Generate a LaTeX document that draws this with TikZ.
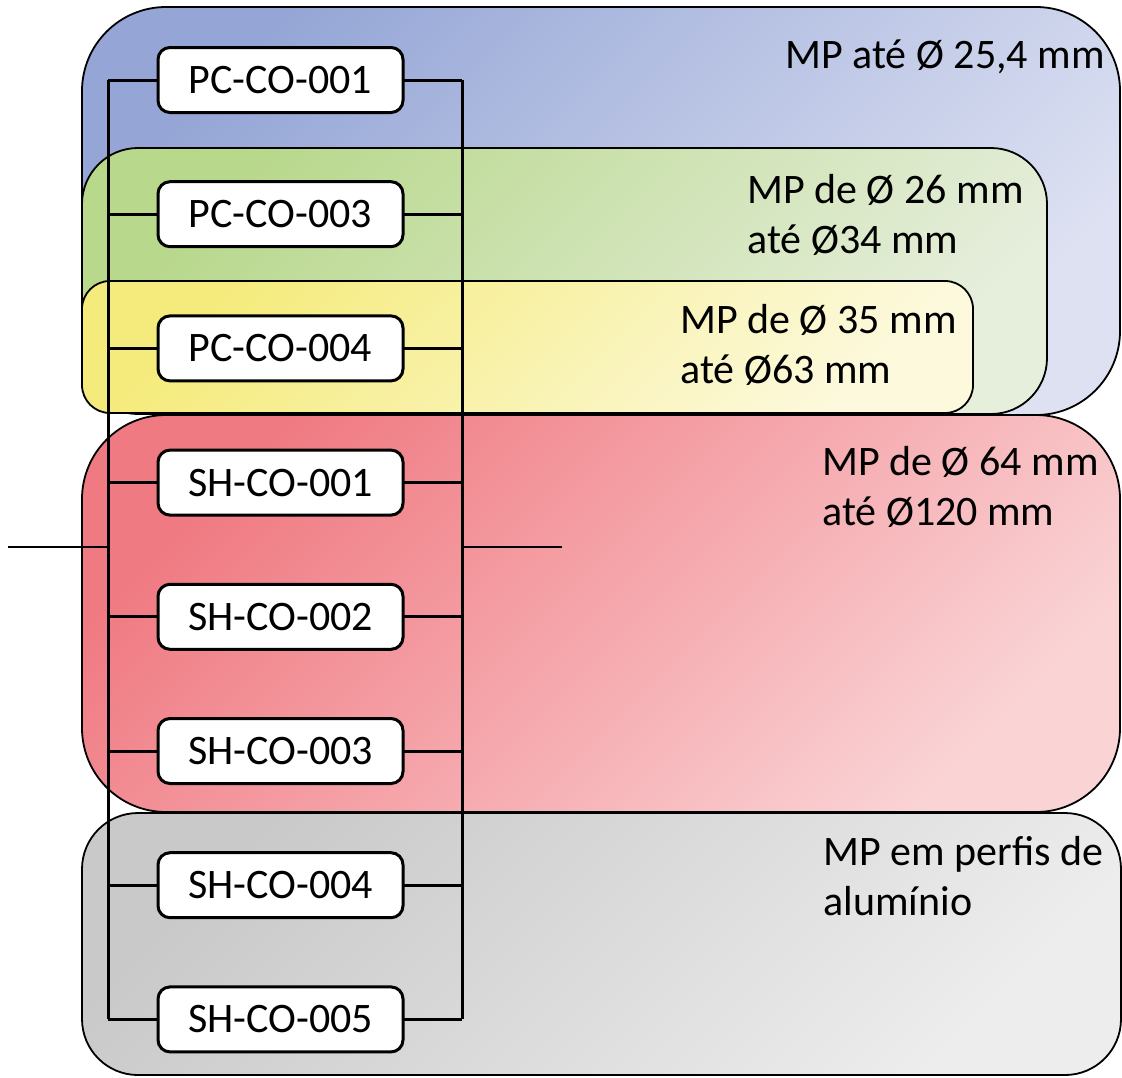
\documentclass[tikz,border=0pt]{standalone}
\usepackage{fontspec}
\setmainfont{Carlito}
\usepackage{tikz}
\usetikzlibrary{positioning, calc}
\definecolor{cBlueA}  {HTML}{95A6D6}
\definecolor{cBlueB}  {HTML}{DDE1F2}
\definecolor{cGreenA} {HTML}{B8D88C}
\definecolor{cGreenB} {HTML}{E6EEDC}
\definecolor{cYellowA}{HTML}{F5EB7C}
\definecolor{cYellowB}{HTML}{FCF9DC}
\definecolor{cRedA}   {HTML}{F07A82}
\definecolor{cRedB}   {HTML}{FAD3D5}
\definecolor{cGrayA}  {HTML}{C9C9C9}
\definecolor{cGrayB}  {HTML}{EEEDED}

\begin{document}
\begin{tikzpicture}[x=0.5pt, y=-0.5pt,
    zone/.style={draw=black, line width=0.9pt},
    ref/.style={draw=black, line width=1.5pt, fill=white, rounded corners=6pt,
      minimum width=122.5pt, minimum height=32.5pt, inner sep=0pt,
      font=\fontsize{21}{25}\selectfont},
    bus/.style={line width=1.5pt},
    lbl/.style={font=\fontsize{21}{25}\selectfont, align=left, inner sep=0pt},
  ]
  \useasboundingbox (0,0) rectangle (1122,1077);

  % faixas de diametro
  \path[zone, rounded corners=42pt, top color=cBlueA, bottom color=cBlueB, shading angle=45]
        (82,7) rectangle (1120,415);
  \path[zone, rounded corners=28pt, top color=cGreenA, bottom color=cGreenB, shading angle=45]
        (82,148) rectangle (1047,414);
  \path[zone, rounded corners=14pt, top color=cYellowA, bottom color=cYellowB, shading angle=45]
        (82,281) rectangle (973,413);
  \path[zone, rounded corners=42pt, top color=cRedA, bottom color=cRedB, shading angle=45]
        (82,415) rectangle (1120,812);
  \path[zone, rounded corners=28pt, top color=cGrayA, bottom color=cGrayB, shading angle=45]
        (82,813) rectangle (1121,1075);

  % legendas (ancoradas na ultima linha)
  \node[lbl, anchor=base east] (tBlue)   at (1105,68)  {MP até Ø 25,4 mm};
  \node[lbl, anchor=base west] (tGreen)  at (747,253)  {MP de Ø 26 mm\\até Ø34 mm};
  \node[lbl, anchor=base west] (tYellow) at (680,383)  {MP de Ø 35 mm\\até Ø63 mm};
  \node[lbl, anchor=base west] (tRed)    at (822,525)  {MP de Ø 64 mm\\até Ø120 mm};
  \node[lbl, anchor=base west] (tGray)   at (823,915)  {MP em perfis de\\alumínio};

  % barramentos
  \coordinate (busL) at (108,547);
  \coordinate (busR) at (462,547);
  \coordinate (inL)  at (8,547);
  \coordinate (outR) at (562,547);

  \foreach \n [count=\i from 0] in {pc1, pc3, pc4, sh1, sh2, sh3, sh4, sh5}
    \path (280.5, {80+134.2*\i}) coordinate (c\n);

  \draw[bus] (cpc1 -| busL) -- (csh5 -| busL);
  \draw[bus] (cpc1 -| busR) -- (csh5 -| busR);
  \foreach \n in {pc1, pc3, pc4, sh1, sh2, sh3, sh4, sh5}
    \draw[bus] (c\n -| busL) -- (c\n -| busR);
  \draw[line width=1pt] (inL) -- (busL);
  \draw[line width=1pt] (busR) -- (outR);

  \foreach \n/\t in {pc1/PC-CO-001, pc3/PC-CO-003, pc4/PC-CO-004,
      sh1/SH-CO-001, sh2/SH-CO-002, sh3/SH-CO-003, sh4/SH-CO-004, sh5/SH-CO-005}
    \node[ref] (\n) at (c\n) {\t};
\end{tikzpicture}
\end{document}
